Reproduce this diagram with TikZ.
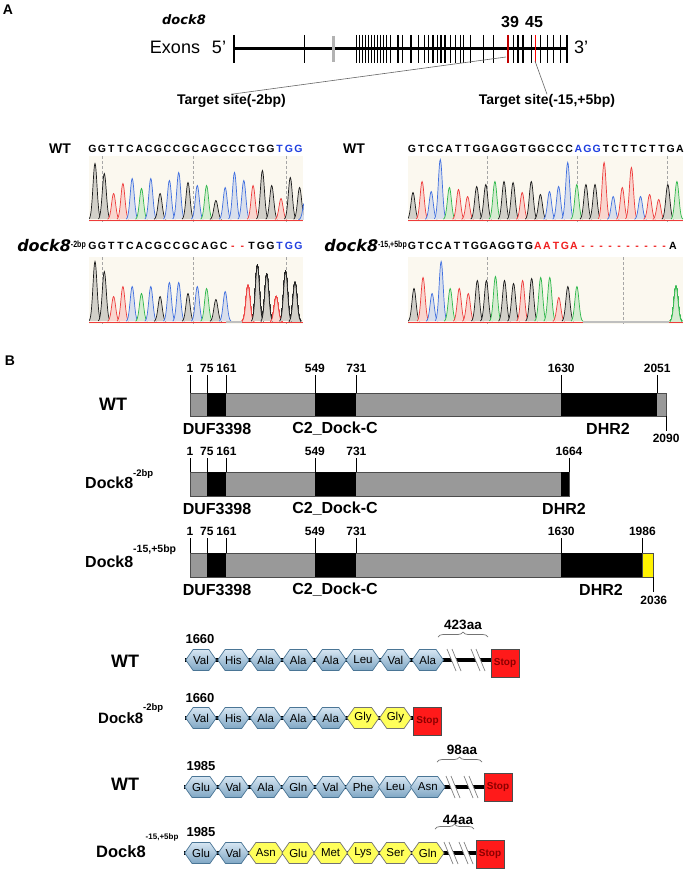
\documentclass[tikz,border=0pt]{standalone}
\usepackage{fontspec}
\setmainfont{Liberation Sans}
\newfontfamily\widefont{DejaVu Sans}
\newfontfamily\narrowfont[FakeStretch=0.78]{Liberation Sans}
\usetikzlibrary{shapes.symbols,decorations.pathreplacing,backgrounds}

\definecolor{baseG}{HTML}{1A1A1A}
\definecolor{baseA}{HTML}{2DB84A}
\definecolor{baseT}{HTML}{EE3B3B}
\definecolor{baseC}{HTML}{3F6FE0}
\definecolor{seqblue}{HTML}{1F3FE0}
\definecolor{seqred}{HTML}{F01E1E}
\definecolor{exonred}{HTML}{C00000}
\definecolor{chrombg}{HTML}{FBF8EF}
\definecolor{domgray}{HTML}{999999}
\definecolor{hexline}{HTML}{4A7595}
\definecolor{hextop}{HTML}{D6E6F2}
\definecolor{hexbot}{HTML}{7FA6C4}
\definecolor{aayellow}{HTML}{FFFF5A}
\definecolor{stopred}{HTML}{FF1A1A}
\definecolor{stoptext}{HTML}{8B0000}

% one trace peak: x, baseline, height, colour
\newcommand{\peak}[4]{%
  \filldraw[draw=#4, fill=#4!18!chrombg, line width=0.7pt]
    plot[domain=0:12, samples=25, smooth] ({#1+\x-6},{#2-#3*exp(-(\x-6)*(\x-6)/8)});}

\tikzset{
  panel/.style={font=\fontsize{14}{14}\selectfont\bfseries, inner sep=0pt},
  seq/.style={font=\fontsize{10.5}{10.5}\selectfont\bfseries, inner sep=0pt, text height=7.5pt, text depth=0pt},
  rowlbl/.style={font=\fontsize{14}{14}\selectfont\bfseries, inner sep=0pt},
  mutlbl/.style={font=\fontsize{16}{16}\widefont\bfseries\itshape, inner sep=0pt, anchor=base east},
  tsite/.style={font=\fontsize{14}{14}\selectfont\bfseries, inner sep=0pt},
  num/.style={font=\fontsize{12}{12}\selectfont\bfseries, inner sep=0pt},
  startnum/.style={font=\fontsize{13}{13}\selectfont\bfseries, inner sep=0pt},
  domlbl/.style={font=\fontsize{16}{16}\selectfont\bfseries, inner sep=0pt},
  biglbl/.style={font=\fontsize{18}{18}\selectfont\bfseries, inner sep=0pt},
  protlbl/.style={font=\fontsize{16}{16}\selectfont\bfseries, inner sep=0pt, anchor=base west},
  barline/.style={draw=black!70, line width=0.8pt},
  aabase/.style={shape=signal, signal to=west and east, signal pointer angle=110,
    minimum width=27pt, minimum height=21pt, inner sep=0pt, line width=0.7pt,
    font=\fontsize{11.5}{11.5}\selectfont},
  aa/.style={aabase, draw=hexline, top color=hextop, bottom color=hexbot},
  aamut/.style={aabase, draw=black!55, fill=aayellow},
  stopbox/.style={draw=black!70, fill=stopred, minimum width=28pt, minimum height=28pt,
    inner sep=0pt, font=\fontsize{10}{10}\selectfont\bfseries, text=stoptext},
  backbone/.style={line width=3.5pt},
  aalen/.style={font=\fontsize{13.5}{13.5}\selectfont\bfseries, inner sep=0pt},
  lenbrace/.style={draw=black!55, line width=0.7pt, decorate, decoration={brace, amplitude=5pt}},
  brk/.style={draw=black!50, line width=0.7pt},
  trace/.style={black!35, densely dashed, line width=0.4pt},
}

\begin{document}
\begin{tikzpicture}[x=1pt,y=-1pt]
  \useasboundingbox (0,0) rectangle (685,869);

  % A: gene model
  \node[panel] (pa) at (8,10) {A};
  \node[font=\fontsize{13}{13}\widefont\bfseries\itshape] (gene) at (184,20) {dock8};
  \node[font=\fontsize{18}{18}\selectfont] (exons) at (175,47) {Exons};
  \node[font=\fontsize{18}{18}\selectfont] (end5) at (219,47) {5'};
  \node[font=\fontsize{18}{18}\selectfont] (end3) at (581,47) {3'};
  \node[font=\fontsize{16}{16}\selectfont\bfseries] (x39) at (510,22) {39};
  \node[font=\fontsize{16}{16}\selectfont\bfseries] (x45) at (534,22) {45};
  \draw[line width=3pt] (234,49) -- (567,49);
  \foreach \e/\w in {234/2.4pt,304/0.8pt,356/1pt,359/0.7pt,362/0.8pt,365/1pt,368/0.7pt,
      371/0.8pt,374/1pt,377/0.7pt,380/0.8pt,383/1pt,386/0.7pt,390/0.9pt,398/1.8pt,
      402/0.8pt,411/1.2pt,418/0.8pt,424/0.8pt,428/0.8pt,433/1.2pt,437/0.8pt,441/1.6pt,
      445/1.6pt,450/0.8pt,455/0.8pt,460/0.8pt,463/0.8pt,470/0.8pt,483/0.8pt,493/0.8pt,
      513/0.8pt,518/1.2pt,523/2pt,531/0.8pt,540/0.8pt,547/0.8pt,553/0.8pt,560/0.8pt,567/2.4pt}
    \draw[line width=\w] (\e,35) -- (\e,63);
  \draw[gray!60, line width=3pt] (333,36) -- (333,62);
  \draw[exonred, line width=2.5pt] (508,35) -- (508,63);
  \draw[red, line width=0.8pt] (535,35) -- (535,63);
  \coordinate (e39) at (506,57);
  \coordinate (e45) at (535,61);
  \node[tsite] (site1) at (231.5,101) {Target site(-2bp)};
  \node[tsite] (site2) at (547,101) {Target site(-15,+5bp)};
  \draw[black!60, line width=0.6pt] (e39) -- (site1.north);
  \draw[black!60, line width=0.6pt] (e45) -- (site2.north);

  % A: traces, site 1
  \node[rowlbl] (wta) at (60,148.5) {WT};
  \foreach \b [count=\i] in {G,G,T,T,C,A,C,G,C,C,G,C,A,G,C,C,C,T,G,G}
    \node[seq] (sa\i) at ({92.5+(\i-1)*9.36},148.5) {\b};
  \foreach \b [count=\i from 21] in {T,G,G}
    \node[seq, text=seqblue] (sa\i) at ({92.5+(\i-1)*9.36},148.5) {\b};
  \begin{scope}
    \clip (89,156) rectangle (303,222);
    \fill[chrombg] (89,156) rectangle (303,222);
    \foreach \d in {102,193,286} \draw[trace] (\d,156) -- (\d,222);
    \foreach \b/\h [count=\i] in {G/56,G/46,T/26,T/36,C/41,A/31,C/41,G/26,C/39,C/47,G/37,C/34,
        A/34,G/19,C/32,C/47,C/39,T/34,G/49,G/34,T/21,G/42,G/32}
      \peak{95+(\i-1)*9.3}{219.5}{\h}{base\b}
    \peak{305}{219.5}{20}{baseC}
    \draw[baseT, line width=0.7pt] (89,220) -- (303,220);
  \end{scope}

  \node[mutlbl] (muta) at (86,251) {dock8\raisebox{4pt}{\narrowfont\upshape\fontsize{9}{9}\selectfont -2bp}};
  \foreach \b [count=\i] in {G,G,T,T,C,A,C,G,C,C,G,C,A,G,C}
    \node[seq] (sb\i) at ({92.5+(\i-1)*9.36},246) {\b};
  \foreach \i in {16,17}
    \node[seq, text=seqred] (sb\i) at ({92.5+(\i-1)*9.36},246) {-};
  \foreach \b [count=\i from 18] in {T,G,G}
    \node[seq] (sb\i) at ({92.5+(\i-1)*9.36},246) {\b};
  \foreach \b [count=\i from 21] in {T,G,G}
    \node[seq, text=seqblue] (sb\i) at ({92.5+(\i-1)*9.36},246) {\b};
  \begin{scope}
    \clip (89,257) rectangle (303,324);
    \fill[chrombg] (89,257) rectangle (303,324);
    \foreach \d in {102,193,286} \draw[trace] (\d,257) -- (\d,324);
    \foreach \b/\h [count=\i] in {G/60,G/50,T/25,T/35,C/35,A/28,C/35,G/25,C/39,C/39,G/28,C/35,A/33,G/22,C/30}
      \peak{95+(\i-1)*9.3}{321.5}{\h}{base\b}
    \foreach \b/\h [count=\i] in {T/36,G/56,G/47,T/25,G/50,G/39}
      \peak{248+(\i-1)*9.4}{321.5}{\h}{base\b}
    \draw[baseT, line width=0.7pt] (89,322) -- (226,322) (242,322) -- (303,322);
    \draw[black!25, line width=1.2pt] (226,322) -- (242,322);
  \end{scope}

  % A: traces, site 2
  \node[rowlbl] (wtb) at (354,148.5) {WT};
  \foreach \b [count=\i] in {G,T,C,C,A,T,T,G,G,A,G,G,T,G,G,C,C,C}
    \node[seq] (sc\i) at ({412+(\i-1)*9.24},148.5) {\b};
  \foreach \b [count=\i from 19] in {A,G,G}
    \node[seq, text=seqblue] (sc\i) at ({412+(\i-1)*9.24},148.5) {\b};
  \foreach \b [count=\i from 22] in {T,C,T,T,C,T,T,G,A}
    \node[seq] (sc\i) at ({412+(\i-1)*9.24},148.5) {\b};
  \begin{scope}
    \clip (408,156) rectangle (683,222);
    \fill[chrombg] (408,156) rectangle (683,222);
    \foreach \d in {487,577,667} \draw[trace] (\d,156) -- (\d,222);
    \foreach \b/\h [count=\i] in {G/27,T/38,C/28,C/60,A/32,T/30,T/23,G/33,G/35,A/38,G/38,G/37,
        T/27,G/38,G/25,C/28,C/33,C/57,A/35,G/35,G/35,T/57,C/23,T/32,T/52,C/23,T/25,T/20,G/35,A/38}
      \peak{413+(\i-1)*9.1}{219.5}{\h}{base\b}
    \draw[baseT, line width=0.7pt] (408,220) -- (683,220);
  \end{scope}

  \node[mutlbl] (mutb) at (407,251) {dock8\raisebox{4pt}{\narrowfont\upshape\fontsize{9}{9}\selectfont -15,+5bp}};
  \foreach \b [count=\i] in {G,T,C,C,A,T,T,G,G,A,G,G,T,G}
    \node[seq] (sd\i) at ({412+(\i-1)*9.0},246) {\b};
  \foreach \b [count=\i from 15] in {A,A,T,G,A}
    \node[seq, text=seqred] (sd\i) at ({412+(\i-1)*9.0},246) {\b};
  \foreach \i in {20,...,29}
    \node[seq, text=seqred] (sd\i) at ({412+(\i-1)*9.0},246) {-};
  \node[seq] (sd30) at (673,246) {A};
  \begin{scope}
    \clip (408,257) rectangle (683,324);
    \fill[chrombg] (408,257) rectangle (683,324);
    \foreach \d in {487,623} \draw[trace] (\d,257) -- (\d,324);
    \foreach \b/\h [count=\i] in {G/33,T/44,C/28,C/60,A/33,T/33,T/28,G/41,G/41,A/45,G/41,G/38,
        T/41,G/43,A/44,A/44,T/24,G/35,A/35}
      \peak{414+(\i-1)*9.05}{321.5}{\h}{base\b}
    \peak{676}{321.5}{35}{baseA}
    \draw[baseT, line width=0.7pt] (408,322) -- (583,322) (669,322) -- (683,322);
    \draw[black!25, line width=1.2pt] (583,322) -- (669,322);
  \end{scope}

  % B: domains
  \node[panel] (pb) at (10,361) {B};
  \node[biglbl] (wtc) at (113,404) {WT};
  \node[protlbl] (mutc) at (85,488) {Dock8\raisebox{12pt}{\fontsize{9.5}{9.5}\selectfont -2bp}};
  \node[protlbl] (mutd) at (85,567) {Dock8\raisebox{15pt}{\fontsize{10.5}{10.5}\selectfont -15,+5bp}};

  \begin{scope}[shift={(189.77pt,0pt)}, x=0.2279pt]
    % WT
    \filldraw[barline, fill=domgray] (1,393) rectangle (2090,416);
    \foreach \s/\e in {75/161,549/731,1630/2051} \fill (\s,393) rectangle (\e,416);
    \foreach \n in {1,75,161,549,731,1630,2051} {
      \draw[line width=0.6pt] (\n,393) -- (\n,375);
      \node[num] (dw\n) at (\n,368) {\n};
    }
    \draw[line width=0.6pt] (2090,416) -- (2090,431);
    \node[num] (dwend) at (2090,438) {2090};
    % -2bp
    \filldraw[barline, fill=domgray] (1,472) rectangle (1664,496);
    \foreach \s/\e in {75/161,549/731,1630/1664} \fill (\s,472) rectangle (\e,496);
    \foreach \n in {1,75,161,549,731,1664} {
      \draw[line width=0.6pt] (\n,472) -- (\n,458);
      \node[num] (dm\n) at (\n,451) {\n};
    }
    % -15,+5bp
    \filldraw[barline, fill=domgray] (1,553) rectangle (2036,577);
    \foreach \s/\e in {75/161,549/731,1630/1986} \fill (\s,553) rectangle (\e,577);
    \filldraw[barline, fill=yellow] (1986,553) rectangle (2036,577);
    \foreach \n in {1,75,161,549,731,1630,1986} {
      \draw[line width=0.6pt] (\n,553) -- (\n,538);
      \node[num] (dn\n) at (\n,531) {\n};
    }
    \draw[line width=0.6pt] (2036,577) -- (2036,592);
    \node[num] (dnend) at (2036,600) {2036};
  \end{scope}
  \node[domlbl] (dufw) at (217,429) {DUF3398};
  \node[domlbl] (c2w) at (335,429) {C2\_Dock-C};
  \node[domlbl] (dhrw) at (608,429) {DHR2};
  \node[domlbl] (dufm) at (217,509) {DUF3398};
  \node[domlbl] (c2m) at (335,509) {C2\_Dock-C};
  \node[domlbl] (dhrm) at (564,509) {DHR2};
  \node[domlbl] (dufn) at (217,590) {DUF3398};
  \node[domlbl] (c2n) at (335,590) {C2\_Dock-C};
  \node[domlbl] (dhrn) at (601,590) {DHR2};

  % B: residues around the frameshift
  \node[biglbl] (wte) at (125,661) {WT};
  \node[startnum] (r1n) at (200,639) {1660};
  \foreach \a [count=\i] in {Val,His,Ala,Ala,Ala,Leu,Val,Ala}
    \node[aa] (r1h\i) at ({201+(\i-1)*32.4},660) {\a};
  \node[stopbox] (r1s) at (505,663) {Stop};
  \draw[lenbrace] (438,637) -- (488,637);
  \node[aalen] (r1len) at (463,625) {423aa};

  \node[protlbl, font=\fontsize{15}{15}\selectfont\bfseries] (r2lbl) at (98,723)
    {Dock8\raisebox{13pt}{\fontsize{9.5}{9.5}\selectfont -2bp}};
  \node[startnum] (r2n) at (200,698) {1660};
  \foreach \a [count=\i] in {Val,His,Ala,Ala,Ala}
    \node[aa] (r2h\i) at ({201+(\i-1)*32.4},718) {\a};
  \foreach \a [count=\i from 6] in {Gly,Gly}
    \node[aamut] (r2h\i) at ({201+(\i-1)*32.4},718) {\a};
  \node[stopbox] (r2s) at (427.5,721) {Stop};

  \node[biglbl] (wtf) at (125,784) {WT};
  \node[startnum] (r3n) at (201,766) {1985};
  \foreach \a [count=\i] in {Glu,Val,Ala,Gln,Val,Phe,Leu,Asn}
    \node[aa] (r3h\i) at ({201+(\i-1)*32.4},787) {\a};
  \node[stopbox] (r3s) at (498,787) {Stop};
  \draw[lenbrace] (437,762) -- (482,762);
  \node[aalen] (r3len) at (462,750) {98aa};

  \node[protlbl, font=\fontsize{16.5}{16.5}\selectfont\bfseries] (r4lbl) at (96,857)
    {Dock8\raisebox{18pt}{\fontsize{8}{8}\selectfont -15,+5bp}};
  \node[startnum] (r4n) at (201,832) {1985};
  \foreach \a [count=\i] in {Glu,Val}
    \node[aa] (r4h\i) at ({201+(\i-1)*32.4},853) {\a};
  \foreach \a [count=\i from 3] in {Asn,Glu,Met,Lys,Ser,Gln}
    \node[aamut] (r4h\i) at ({201+(\i-1)*32.4},853) {\a};
  \node[stopbox] (r4s) at (490,854.5) {Stop};
  \draw[lenbrace] (435,829) -- (474,829);
  \node[aalen] (r4len) at (458,820) {44aa};

  % breaks in the chain
  \foreach \bx/\by in {454/660,478/660,453/787,471/787,451/853,466/853} {
    \fill[white] (\bx-7,\by-11) -- (\bx-2,\by-11) -- (\bx+7,\by+11) -- (\bx+2,\by+11) -- cycle;
    \draw[brk] (\bx-7,\by-11) -- (\bx+2,\by+11) (\bx-2,\by-11) -- (\bx+7,\by+11);
  }

  \begin{scope}[on background layer]
    \fill[white] (0,0) rectangle (685,869);
    \draw[backbone] (r1h1.west) -- (r1h1.west -| r1s.east);
    \draw[backbone] (r2h1.west) -- (r2h1.west -| r2s.east);
    \draw[backbone] (r3h1.west) -- (r3h1.west -| r3s.east);
    \draw[backbone] (r4h1.west) -- (r4h1.west -| r4s.east);
  \end{scope}
\end{tikzpicture}
\end{document}
